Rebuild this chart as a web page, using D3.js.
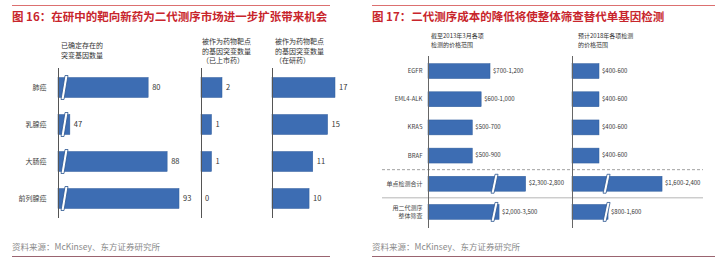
<!DOCTYPE html>
<html>
<head>
<meta charset="utf-8">
<script src="https://cdn.jsdelivr.net/npm/d3@7"></script>
<style>
  body { margin: 0; background: #fff; }
  text { font-family: "Noto Sans CJK SC", "Noto Sans", sans-serif; }
</style>
</head>
<body>
<div id="grafico"></div>
<script>
// ---- datos figura 16 ----
const canceres = ["肺癌", "乳腺癌", "大肠癌", "前列腺癌"];
const mutacionesConocidas = [80, 47, 88, 93];
const blancosAprobados = [2, 1, 1, 0];
const blancosEnDesarrollo = [17, 15, 11, 10];
const encabezados16 = [
  ["已确定存在的", "突变基因数量"],
  ["被作为药物靶点", "的基因突变数量", "（已上市药）"],
  ["被作为药物靶点", "的基因突变数量", "（在研药）"]
];

// ---- datos figura 17 ----
const pruebas = ["EGFR", "EML4-ALK", "KRAS", "BRAF", "单点检测合计", "用二代测序\n整体筛查"];
const precio2013Min = [700, 600, 500, 500, 2300, 2000];
const precio2013Max = [1200, 1000, 700, 900, 2800, 3500];
const precio2018Min = [400, 400, 400, 400, 1600, 800];
const precio2018Max = [600, 600, 600, 600, 2400, 1600];
const encabezados17 = [
  ["截至2013年3月各项", "检测的价格范围"],
  ["预计2018年各项检测", "的价格范围"]
];

const titulo16 = "图 16：在研中的靶向新药为二代测序市场进一步扩张带来机会";
const titulo17 = "图 17：二代测序成本的降低将使整体筛查替代单基因检测";
const fuente = "资料来源：McKinsey、东方证券研究所";

const azul = "#3d6db3";
const rojo = "#c8252c";

const svg = d3.select("#grafico").append("svg")
  .attr("width", 726)
  .attr("height", 273);

// marco de cada figura: linea superior, titulo, fuente, linea inferior
function marco(x1, x2, titulo) {
  svg.append("line")
    .attr("x1", x1).attr("x2", x2).attr("y1", 5.5).attr("y2", 5.5)
    .attr("stroke", "#dc7070").attr("stroke-width", 1);
  svg.append("text")
    .attr("x", x1).attr("y", 21)
    .attr("font-size", 11.5).attr("font-weight", "bold")
    .attr("fill", rojo)
    .text(titulo);
  svg.append("text")
    .attr("x", x1).attr("y", 250)
    .attr("font-size", 8.5).attr("fill", "#8a8a8a")
    .text(fuente);
  svg.append("line")
    .attr("x1", x1).attr("x2", x2).attr("y1", 256.5).attr("y2", 256.5)
    .attr("stroke", "#9a6470").attr("stroke-width", 1);
}

marco(12, 330, titulo16);
marco(372, 715, titulo17);

function encabezado(lineas, x, y, paso, tam) {
  const t = svg.append("text").attr("font-size", tam).attr("fill", "#333");
  lineas.forEach((l, i) => {
    t.append("tspan").attr("x", x).attr("y", y + i * paso).text(l);
  });
}

// marca de corte "//"
function corte(x, yTop, h) {
  svg.append("polygon")
    .attr("points", [
      [x - 2, yTop + h + 2], [x + 2, yTop - 2],
      [x + 5, yTop - 2], [x + 1, yTop + h + 2]
    ].map(p => p.join(",")).join(" "))
    .attr("fill", "#fff")
    .attr("stroke", "#2b558f")
    .attr("stroke-width", 0.8);
}

// ================= figura 16 =================
const y16 = d3.scaleBand()
  .domain(canceres)
  .range([69, 217])
  .paddingInner(0.46)
  .paddingOuter(0.23);

const paneles16 = [
  { x0: 58, valores: mutacionesConocidas, escala: d3.scaleLinear().domain([42, 93]).range([0, 121]), cortado: true, hx: 61, hy: 48 },
  { x0: 201, valores: blancosAprobados, escala: d3.scaleLinear().domain([0, 2]).range([0, 21]), cortado: false, hx: 202, hy: 44 },
  { x0: 272, valores: blancosEnDesarrollo, escala: d3.scaleLinear().domain([0, 17]).range([0, 63]), cortado: false, hx: 275, hy: 44 }
];

paneles16.forEach((p, j) => {
  encabezado(encabezados16[j], p.hx, p.hy, 9.7, 7);

  const g = svg.append("g");
  g.selectAll("rect")
    .data(p.valores)
    .enter().append("rect")
    .attr("x", p.x0)
    .attr("y", (d, i) => y16(canceres[i]))
    .attr("width", d => p.escala(d))
    .attr("height", y16.bandwidth())
    .attr("fill", azul)
    .attr("stroke", "#2f5d9c")
    .attr("stroke-width", 0.5);

  g.selectAll("text.valor")
    .data(p.valores)
    .enter().append("text")
    .attr("class", "valor")
    .attr("x", d => p.x0 + p.escala(d) + 4)
    .attr("y", (d, i) => y16(canceres[i]) + y16.bandwidth() / 2)
    .attr("dominant-baseline", "middle")
    .attr("font-size", 7.5)
    .attr("fill", "#333")
    .text(d => d);

  const eje = d3.axisLeft(y16).tickSize(0).tickSizeOuter(0).tickPadding(12);
  if (j > 0) eje.tickFormat("");
  const ga = svg.append("g")
    .attr("transform", `translate(${p.x0 + 0.5},0)`)
    .call(eje);
  ga.select(".domain").attr("stroke", "#555").attr("d", "M0,68V218");
  ga.selectAll("text")
    .attr("font-size", 7)
    .attr("fill", "#444")
    .style("font-family", "'Noto Sans CJK SC', sans-serif");

  if (p.cortado) {
    canceres.forEach(c => corte(p.x0 + 5, y16(c), y16.bandwidth()));
  }
});

// ================= figura 17 =================
const y17 = d3.scaleBand()
  .domain(pruebas)
  .range([57, 226])
  .paddingInner(0.47)
  .paddingOuter(0.235);

// escala lineal con un tramo omitido (eje cortado)
function escalaCortada(k, lo, hi, max) {
  return d3.scaleLinear()
    .domain([0, lo, hi, max])
    .range([0, lo * k, lo * k, (lo + max - hi) * k]);
}

const paneles17 = [
  { x0: 428, min: precio2013Min, max: precio2013Max, escala: escalaCortada(0.0886, 734, 1932, 3500), lo: 734, hx: 431 },
  { x0: 572, min: precio2018Min, max: precio2018Max, escala: escalaCortada(0.0675, 490, 756, 2400), lo: 490, hx: 578 }
];

const fmt = d3.format(",");

// separadores horizontales
const bw = y17.bandwidth();
const ySep1 = (y17(pruebas[3]) + bw + y17(pruebas[4])) / 2;
const ySep2 = (y17(pruebas[4]) + bw + y17(pruebas[5])) / 2;
svg.append("line")
  .attr("x1", 382).attr("x2", 703).attr("y1", ySep1).attr("y2", ySep1)
  .attr("stroke", "#8a8a8a").attr("stroke-width", 0.8).attr("stroke-dasharray", "3,2");
svg.append("line")
  .attr("x1", 382).attr("x2", 703).attr("y1", ySep2).attr("y2", ySep2)
  .attr("stroke", "#b5b5b5").attr("stroke-width", 1);

paneles17.forEach((p, j) => {
  encabezado(encabezados17[j], p.hx, 38, 8.5, 6);

  const g = svg.append("g");
  g.selectAll("rect")
    .data(p.min)
    .enter().append("rect")
    .attr("x", p.x0)
    .attr("y", (d, i) => y17(pruebas[i]))
    .attr("width", d => p.escala(d))
    .attr("height", bw)
    .attr("fill", azul)
    .attr("stroke", "#2f5d9c")
    .attr("stroke-width", 0.5);

  g.selectAll("text.valor")
    .data(p.min)
    .enter().append("text")
    .attr("class", "valor")
    .attr("x", d => p.x0 + p.escala(d) + 3)
    .attr("y", (d, i) => y17(pruebas[i]) + bw / 2)
    .attr("dominant-baseline", "middle")
    .attr("font-size", 6)
    .attr("fill", "#333")
    .text((d, i) => "$" + fmt(d) + "-" + fmt(p.max[i]));

  const eje = d3.axisLeft(y17).tickSize(0).tickSizeOuter(0).tickPadding(6);
  if (j > 0) eje.tickFormat("");
  const ga = svg.append("g")
    .attr("transform", `translate(${p.x0 + 0.5},0)`)
    .call(eje);
  ga.select(".domain").attr("stroke", "#666").attr("d", "M0,56V228");
  ga.selectAll("text")
    .attr("font-size", 6)
    .attr("fill", "#444")
    .style("font-family", "'Noto Sans CJK SC', sans-serif");

  // etiquetas de dos lineas solo en el primer panel
  if (j === 0) {
    ga.selectAll("text").each(function (d) {
      const partes = d.split("\n");
      if (partes.length > 1) {
        const t = d3.select(this).text("");
        partes.forEach((s, k) => {
          t.append("tspan").attr("x", -6).attr("dy", k === 0 ? "-0.3em" : "1.35em").text(s);
        });
      }
    });
  }

  p.min.forEach((d, i) => {
    if (d > p.lo) corte(p.x0 + p.escala(p.lo), y17(pruebas[i]), bw);
  });
});
</script>
</body>
</html>
